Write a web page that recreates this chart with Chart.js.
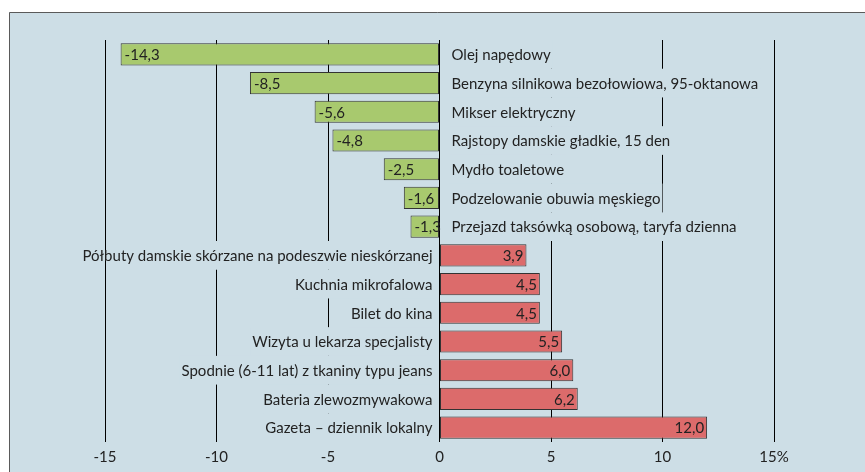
<!DOCTYPE html>
<html>
<head>
<meta charset="utf-8">
<script src="https://cdn.jsdelivr.net/npm/chart.js@4.4.1/dist/chart.umd.min.js"></script>
<style>
html,body{margin:0;padding:0;background:#fff;}
#wrap{width:865px;height:472px;position:relative;}
</style>
</head>
<body>
<div id="wrap"><canvas id="c" width="865" height="472"></canvas></div>
<script>
const categories = [
  "Olej napędowy",
  "Benzyna silnikowa bezołowiowa, 95-oktanowa",
  "Mikser elektryczny",
  "Rajstopy damskie gładkie, 15 den",
  "Mydło toaletowe",
  "Podzelowanie obuwia męskiego",
  "Przejazd taksówką osobową, taryfa dzienna",
  "Półbuty damskie skórzane na podeszwie nieskórzanej",
  "Kuchnia mikrofalowa",
  "Bilet do kina",
  "Wizyta u lekarza specjalisty",
  "Spodnie (6-11 lat) z tkaniny typu jeans",
  "Bateria zlewozmywakowa",
  "Gazeta – dziennik lokalny"
];
const values = [-14.3, -8.5, -5.6, -4.8, -2.5, -1.6, -1.3, 3.9, 4.5, 4.5, 5.5, 6.0, 6.2, 12.0];
const tickValues = [-15, -10, -5, 0, 5, 10, 15];
const tickLabels = ["-15", "-10", "-5", "0", "5", "10", "15%"];

const BG = '#cddee6';
const FONT = 'Lato, "Open Sans", sans-serif';
const FS = 15;

const panelPlugin = {
  id: 'panel',
  beforeDraw(chart) {
    const ctx = chart.ctx;
    ctx.save();
    ctx.fillStyle = '#ffffff';
    ctx.fillRect(0, 0, chart.width, chart.height);
    ctx.fillStyle = BG;
    ctx.fillRect(9, 12, chart.width, chart.height);
    ctx.strokeStyle = '#5a5a5a';
    ctx.lineWidth = 1;
    ctx.beginPath();
    ctx.moveTo(9.5, chart.height);
    ctx.lineTo(9.5, 12.5);
    ctx.lineTo(chart.width, 12.5);
    ctx.stroke();
    ctx.restore();
  }
};

const labelPlugin = {
  id: 'labels',
  afterDatasetsDraw(chart) {
    const ctx = chart.ctx;
    const meta = chart.getDatasetMeta(0);
    const xs = chart.scales.x;
    const zero = xs.getPixelForValue(0);
    const band = (chart.chartArea.bottom - chart.chartArea.top) / categories.length;
    ctx.save();
    ctx.font = FS + 'px ' + FONT;
    ctx.textBaseline = 'middle';
    meta.data.forEach((bar, i) => {
      const v = values[i];
      const txt = categories[i];
      const w = ctx.measureText(txt).width;
      let x0;
      if (v < 0) { x0 = zero + 12; } else { x0 = zero - 7 - w; }
      ctx.fillStyle = BG;
      ctx.fillRect(x0 - 2, bar.y - band / 2, w + 4, band);
    });
    // leftmost gridline stays visible through labels in the original
    const xl = Math.round(xs.getPixelForValue(-15)) + 0.5;
    ctx.strokeStyle = '#000';
    ctx.lineWidth = 1;
    ctx.beginPath();
    ctx.moveTo(xl, chart.chartArea.top);
    ctx.lineTo(xl, chart.chartArea.bottom);
    ctx.stroke();
    ctx.fillStyle = '#222';
    meta.data.forEach((bar, i) => {
      const v = values[i];
      const txt = categories[i];
      if (v < 0) {
        ctx.textAlign = 'left';
        ctx.fillText(txt, zero + 12, bar.y + 1);
        ctx.fillText(v.toFixed(1).replace('.', ','), bar.x + 4, bar.y + 1);
      } else {
        ctx.textAlign = 'right';
        ctx.fillText(txt, zero - 7, bar.y + 1);
        ctx.fillText(v.toFixed(1).replace('.', ','), bar.x - 3, bar.y + 1);
      }
    });
    ctx.restore();
  }
};

new Chart(document.getElementById('c'), {
  type: 'bar',
  data: {
    labels: categories,
    datasets: [{
      data: values,
      backgroundColor: values.map(v => v < 0 ? '#a8c96e' : '#dc6b6b'),
      borderColor: '#333333',
      borderWidth: 1,
      borderSkipped: false,
      barPercentage: 0.77,
      categoryPercentage: 1.0
    }]
  },
  options: {
    indexAxis: 'y',
    responsive: false,
    animation: false,
    devicePixelRatio: 1,
    layout: { padding: { left: 105, right: 91, top: 40, bottom: 0 } },
    plugins: { legend: { display: false }, tooltip: { enabled: false } },
    scales: {
      x: {
        min: -15, max: 15,
        afterBuildTicks(scale) { scale.ticks = tickValues.map(v => ({ value: v })); },
        ticks: {
          callback: (v) => { const k = tickValues.indexOf(v); return k >= 0 ? tickLabels[k] : ''; },
          color: '#222',
          font: { family: FONT, size: FS },
          padding: 6,
          maxRotation: 0,
          autoSkip: false
        },
        grid: { color: '#000', lineWidth: 1, drawTicks: false },
        border: { display: false }
      },
      y: { display: false }
    }
  },
  plugins: [panelPlugin, labelPlugin]
});
</script>
</body>
</html>
